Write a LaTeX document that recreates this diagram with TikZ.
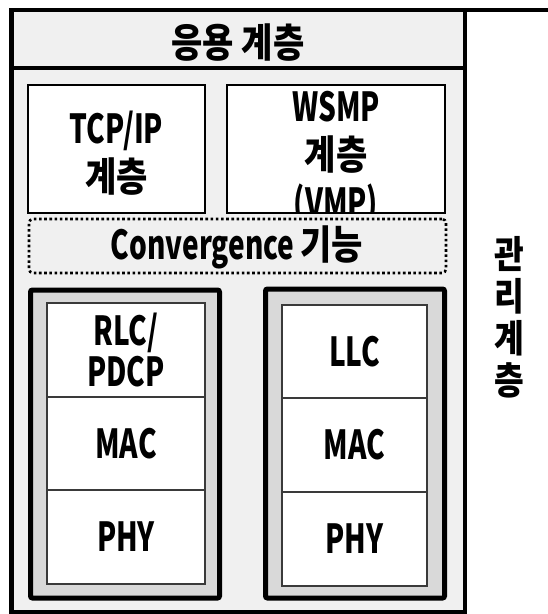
\documentclass[tikz,border=0pt]{standalone}
\usepackage{fontspec}
\newfontfamily\kor{Noto Sans CJK KR}[FakeStretch=0.85]
\newfontfamily\lat{Noto Sans CJK KR}[FakeStretch=0.70]
\definecolor{bgA}{HTML}{F0F0F0}
\definecolor{bgB}{HTML}{D9D9D9}
\definecolor{cellline}{HTML}{3A3A3A}
\tikzset{
  lbl/.style={inner sep=0pt, outer sep=0pt, align=center, font=\bfseries\fontsize{40}{48}\selectfont},
  whitebox/.style={draw, line width=2.8pt, fill=white, inner sep=0pt, outer sep=0pt},
  stackbox/.style={draw, line width=5pt, fill=bgB, rounded corners=2pt, inner sep=0pt, outer sep=0pt},
  cell/.style={draw=cellline, line width=1.6pt, fill=white, inner sep=0pt, outer sep=0pt},
  convbox/.style={draw, line width=2.6pt, dash pattern=on 2.6pt off 2.6pt, rounded corners=4pt, inner sep=0pt, outer sep=0pt}
}
\begin{document}
\begin{tikzpicture}[x=1pt,y=-1pt]
\useasboundingbox (0,0) rectangle (548,614);
\fill[white] (0,0) rectangle (548,614);
% main column
\node[draw, line width=4.5pt, fill=bgA, minimum width=453.5pt, minimum height=602.5pt, inner sep=0pt, outer sep=0pt] (col) at (238.25,311.25) {};
\draw[line width=4.5pt] (col.north east) -- ++(95,0);
\draw[line width=4pt] ([yshift=-58pt]col.north west) -- ([yshift=-58pt]col.north east);
\node[lbl] (app) at (238,43) {\kor 응용 계층};
% upper boxes
\node[whitebox, minimum width=177pt, minimum height=128pt] (tcp) at (116.5,149) {};
\node[lbl] (tcpt) at (116.5,153) {\lat TCP/IP\\\kor 계층};
\node[whitebox, minimum width=218pt, minimum height=128pt,
  path picture={\node[lbl] at ([yshift=-9pt]path picture bounding box.center) {\lat WSMP\\\kor 계층\\\lat (VMP)};}] (wsmp) at (336,149) {};
% convergence
\node[convbox, minimum width=417pt, minimum height=54pt] (conv) at (237.5,246) {};
\node[lbl] (convt) at (237,247) {\lat Convergence \kor 기능};
% left stack
\node[stackbox, minimum width=189pt, minimum height=308pt] (lstack) at (125,444) {};
\node[cell, minimum width=158pt, minimum height=94pt] (rlc) at (126,350) {};
\node[cell, minimum width=158pt, minimum height=93pt] (mac1) at (126,443.5) {};
\node[cell, minimum width=158pt, minimum height=94pt] (phy1) at (126,537) {};
\node[lbl, font=\bfseries\fontsize{40}{41}\selectfont] (rlct) at (rlc) {\lat RLC/\\\lat PDCP};
\node[lbl] (mac1t) at (mac1) {\lat MAC};
\node[lbl] (phy1t) at (phy1) {\lat PHY};
% right stack
\node[stackbox, minimum width=179pt, minimum height=309pt] (rstack) at (355,443.5) {};
\node[cell, minimum width=145pt, minimum height=93pt] (llc) at (354.5,351.5) {};
\node[cell, minimum width=145pt, minimum height=94pt] (mac2) at (354.5,445) {};
\node[cell, minimum width=145pt, minimum height=94pt] (phy2) at (354.5,539) {};
\node[lbl] (llct) at (llc) {\lat LLC};
\node[lbl] (mac2t) at (mac2) {\lat MAC};
\node[lbl] (phy2t) at (phy2) {\lat PHY};
% management
\node[lbl, font=\bfseries\fontsize{38}{42}\selectfont] (mgmt) at (509,317) {\kor 관\\\kor 리\\\kor 계\\\kor 층};
\end{tikzpicture}
\end{document}
